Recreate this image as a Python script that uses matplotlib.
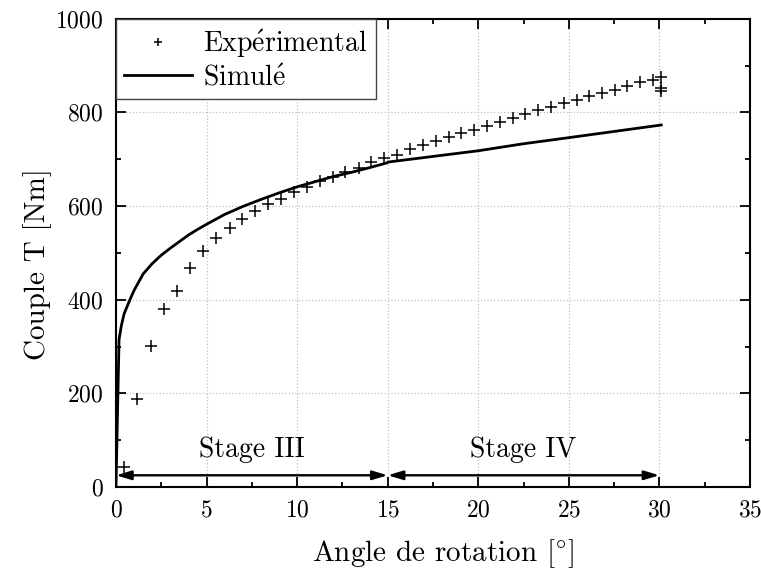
import numpy as np
import matplotlib
matplotlib.use("Agg")
import matplotlib.pyplot as plt

# experimental torque vs rotation angle
exp_angle = [0.44, 1.18, 1.91, 2.65, 3.36, 4.08, 4.82, 5.53, 6.29, 6.97,
             7.68, 8.40, 9.12, 9.83, 10.54, 11.25, 11.97, 12.67, 13.39, 14.10,
             14.80, 15.52, 16.23, 16.93, 17.67, 18.37, 19.07, 19.78, 20.50, 21.20,
             21.91, 22.60, 23.31, 24.01, 24.71, 25.44, 26.13, 26.82, 27.54, 28.22,
             28.92, 29.62, 30.10, 30.10, 30.10]
exp_torque = [43, 188, 302, 381, 419, 468, 505, 532, 554, 573,
              589, 604, 616, 629, 641, 653, 663, 672, 682, 693,
              703, 710, 721, 730, 739, 747, 756, 763, 771, 779,
              787, 796, 804, 811, 819, 826, 834, 842, 847, 856,
              864, 870, 876, 851, 846]

# simulated, stage III
sim3_angle = [0, 0.08, 0.17, 0.3, 0.45, 0.77, 1.0, 1.5, 2.0, 2.5, 3.0, 3.5,
              4.0, 4.5, 5.0, 6.0, 7.0, 8.0, 9.0, 10.0, 11.0, 12.0, 13.0, 14.0, 14.95]
sim3_torque = [0, 150, 315, 345, 370, 400, 420, 455, 477, 495, 510, 524,
               538, 550, 561, 582, 599, 614, 628, 641, 652, 663, 672, 682, 692]
# simulated, stage IV
sim4_angle = [15.05, 20.0, 22.5, 25.0, 30.1]
sim4_torque = [694, 718, 733, 746, 773]

stages = ["Stage III", "Stage IV"]
stage_bounds = [(0, 15), (15, 30)]

plt.rcParams['font.family'] = ['cmr10', 'DejaVu Serif']
plt.rcParams['mathtext.fontset'] = 'cm'
plt.rcParams['axes.unicode_minus'] = False
plt.rcParams['axes.formatter.use_mathtext'] = True

fig = plt.figure(figsize=(7.61, 5.72), dpi=100)
ax = fig.add_axes([0.1524, 0.1486, 0.8331, 0.8187])

ax.plot(exp_angle, exp_torque, '+', color='k', ms=8.5, mew=1.1,
        label='Exp$\\acute{\\mathrm{e}}$rimental', zorder=3)
ax.plot(sim3_angle, sim3_torque, '-', color='k', lw=2.0,
        label='Simul$\\acute{\\mathrm{e}}$', zorder=3)
ax.plot(sim4_angle, sim4_torque, '-', color='k', lw=2.0, zorder=3)

for name, (a, b) in zip(stages, stage_bounds):
    ax.annotate('', xy=(b, 25), xytext=(a, 25),
                arrowprops=dict(arrowstyle='<|-|>,head_length=0.5,head_width=0.15',
                                lw=1.7, color='k', mutation_scale=18,
                                shrinkA=0, shrinkB=0), zorder=4)
    ax.text((a + b) / 2, 79, name, ha='center', va='center', fontsize=20)

ax.set_xlim(0, 35)
ax.set_ylim(0, 1000)
ax.set_xticks(np.arange(0, 36, 5))
ax.set_yticks(np.arange(0, 1001, 200))
ax.set_xticks(np.arange(0, 36, 2.5), minor=True)
ax.set_yticks(np.arange(0, 1001, 100), minor=True)
ax.tick_params(which='both', direction='in', top=True, right=True, labelsize=17, pad=9)
ax.tick_params(which='major', length=7, width=1.3)
ax.tick_params(which='minor', length=3.5, width=1.3)
for s in ax.spines.values():
    s.set_linewidth(1.5)

ax.grid(True, which='major', ls=':', color='#c0c0c0', lw=0.9)
ax.set_axisbelow(True)

ax.set_xlabel('Angle de rotation [$^{\\circ}$]', fontsize=21)
ax.set_ylabel('Couple T [Nm]', fontsize=21)
ax.xaxis.set_label_coords(0.516, -0.108)
ax.yaxis.set_label_coords(-0.101, 0.475)

leg = ax.legend(loc='upper left', bbox_to_anchor=(0, 1), borderaxespad=0,
                fontsize=20, fancybox=False, framealpha=1, edgecolor='#444444',
                handlelength=2.45, handletextpad=0.4, labelspacing=0.15,
                markerscale=0.7, borderpad=0.3)
leg.get_frame().set_linewidth(1.0)
leg.set_zorder(5)

fig.savefig('out.png', dpi=100)
